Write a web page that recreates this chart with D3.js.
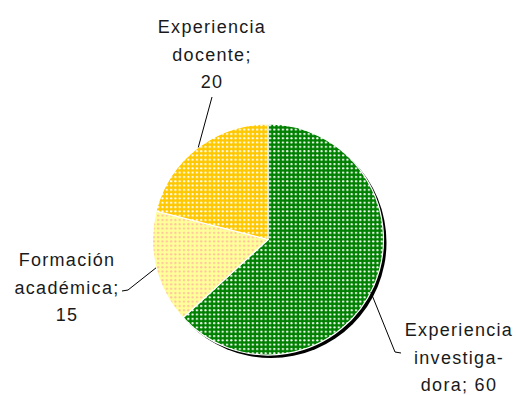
<!DOCTYPE html>
<html>
<head>
<meta charset="utf-8">
<script src="https://cdn.jsdelivr.net/npm/d3@7"></script>
<style>
  html, body { margin: 0; padding: 0; background: #fff; }
  svg { display: block; }
  text { font-family: "Liberation Sans", Arial, sans-serif; font-size: 18px; fill: #1a1a1a; letter-spacing: 1.3px; }
</style>
</head>
<body>
<svg id="chart" width="516" height="395"></svg>
<script>
// Criteria weights
const categories = ["Experiencia investigadora", "Formación académica", "Experiencia docente"];
const values = [60, 15, 20];
const fills = ["#008000", "#FFFF99", "#FFC800"];
const dotColors = ["#FFFFFF", "#FFC0A0", "#FFFFFF"];
const labelLines = [
  ["Experiencia", "investiga-", "dora; 60"],
  ["Formación", "académica;", "15"],
  ["Experiencia", "docente;", "20"]
];

const svg = d3.select("#chart");
const cx = 268, cy = 239.5, r = 115.5;

// dotted fill patterns, one per slice
const defs = svg.append("defs");
categories.forEach((c, i) => {
  const p = defs.append("pattern")
    .attr("id", "dots" + i)
    .attr("patternUnits", "userSpaceOnUse")
    .attr("width", 4.3).attr("height", 4.3);
  p.append("rect").attr("width", 4.3).attr("height", 4.3).attr("fill", fills[i]);
  p.append("circle").attr("cx", 2).attr("cy", 2).attr("r", 1.1)
    .attr("fill", dotColors[i]);
});

const pie = d3.pie().sort(null).value(d => d)(values);
const arc = d3.arc().innerRadius(0).outerRadius(r);

// drop shadow
svg.append("circle").attr("cx", cx + 3).attr("cy", cy + 3).attr("r", r).attr("fill", "#000");

const g = svg.append("g").attr("transform", `translate(${cx},${cy})`);
g.selectAll("path").data(pie).join("path")
  .attr("d", arc)
  .attr("fill", (d, i) => `url(#dots${i})`)
  .attr("stroke", "#fff")
  .attr("stroke-width", 1.2);

// leader lines from slice edge to label
function edge(d, f) {
  const a = d.startAngle + (d.endAngle - d.startAngle) * f;
  return [cx + r * Math.sin(a), cy - r * Math.cos(a)];
}
const leaders = [
  { d: pie[0], f: 0.515, pts: [[395, 352], [401, 353]] },
  { d: pie[1], f: 0.5, pts: [[128, 290], [122, 291]] },
  { d: pie[2], f: 0.51, pts: [[212, 97]] }
];
const line = d3.line();
leaders.forEach(l => {
  const start = edge(l.d, l.f);
  svg.append("path")
    .attr("d", line([start, ...l.pts]))
    .attr("fill", "none").attr("stroke", "#000").attr("stroke-width", 1);
});

// labels
const labelPos = [[459, 336], [67, 266], [212, 33]];
labelLines.forEach((lines, i) => {
  const t = svg.append("text").attr("text-anchor", "middle");
  lines.forEach((s, k) => {
    t.append("tspan").attr("x", labelPos[i][0]).attr("y", labelPos[i][1] + k * 27.5).text(s);
  });
});
</script>
</body>
</html>
